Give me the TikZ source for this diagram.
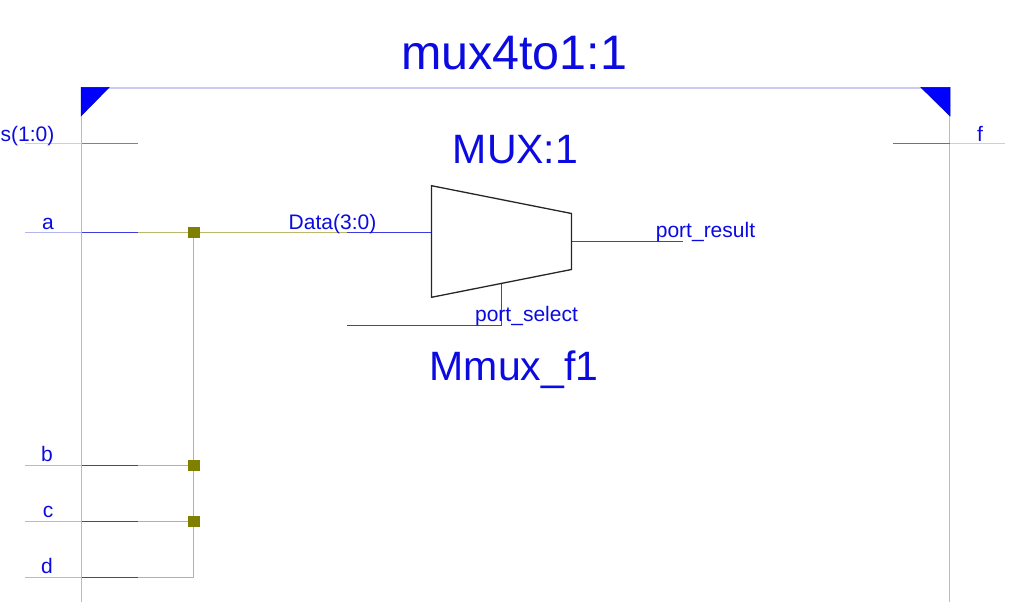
\documentclass[tikz,border=0pt]{standalone}
\usepackage{fontspec}
\setmainfont{Liberation Sans}
\definecolor{lab}{RGB}{10,10,225}
\definecolor{wirein}{RGB}{60,60,225}
\definecolor{pale}{RGB}{180,180,240}
\definecolor{olive}{RGB}{185,185,105}
\definecolor{joint}{RGB}{128,128,0}
\tikzset{
  x=1pt,y=-1pt,
  small/.style={font=\fontsize{21}{21}\selectfont,text=lab,inner sep=0pt,anchor=base},
  big/.style={font=\fontsize{41}{41}\selectfont,text=lab,inner sep=0pt,anchor=base},
  huge/.style={font=\fontsize{48.4}{48.4}\selectfont,text=lab,inner sep=0pt,anchor=base},
  frameside/.style={draw=pale,line width=1.3pt},
  frametop/.style={draw=pale!70!white,line width=2pt},
  stub/.style={draw=pale,line width=1.3pt},
  stubwide/.style={draw=pale!70!white,line width=1.6pt},
  netin/.style={draw=wirein,line width=1.3pt},
  netsoft/.style={draw=wirein!70!white,line width=1.6pt},
  netgrey/.style={draw=black!55,line width=1.6pt},
  net/.style={draw=olive,line width=1.3pt},
  corner/.style={fill=blue,draw=black!30!blue,line width=0.5pt},
  jdot/.style={fill=joint,draw=none,minimum size=11.5pt,inner sep=0pt,rectangle},
  block/.style={draw=black!85,line width=1.3pt,fill=white,line join=miter}
}
\begin{document}
\begin{tikzpicture}
\useasboundingbox (0,0) rectangle (1021,602);
% named points
\coordinate (tl) at (81.5,88);
\coordinate (tr) at (949.5,88);
\coordinate (bl) at (81.5,602);
\coordinate (br) at (949.5,602);
\coordinate (sO) at (25,143.5);
\coordinate (sI) at (81.5,143.5);
\coordinate (sE) at (137.5,143.5);
\coordinate (aO) at (25,232.5);
\coordinate (aI) at (81.5,232.5);
\coordinate (aE) at (138,232.5);
\coordinate (bO) at (25,465.5);
\coordinate (bI) at (81.5,465.5);
\coordinate (bE) at (138,465.5);
\coordinate (cO) at (25,521.5);
\coordinate (cI) at (81.5,521.5);
\coordinate (cE) at (138,521.5);
\coordinate (dO) at (25,577.5);
\coordinate (dI) at (81.5,577.5);
\coordinate (dE) at (138,577.5);
\coordinate (dC) at (193.5,577.5);
\coordinate (dataS) at (347,232.5);
\coordinate (dataE) at (431.5,232.5);
\coordinate (selS) at (347,325.5);
\coordinate (selC) at (501.5,325.5);
\coordinate (selE) at (501.5,283.5);
\coordinate (resS) at (571.5,241.5);
\coordinate (resE) at (683,241.5);
\coordinate (fI) at (892.5,143.5);
\coordinate (fC) at (949.5,143.5);
\coordinate (fO) at (1005,143.5);
% frame
\draw[frametop] (tl) -- (tr);
\draw[frameside] (tl) -- (bl);
\draw[frameside] (tr) -- (br);
\draw[corner] (81,87.5) -- (109,87.5) -- (81,116) -- cycle;
\draw[corner] (950,87.5) -- (921,87.5) -- (950,116) -- cycle;
% stubs
\draw[stubwide] (sO) -- (sI);
\draw[stub] (aO) -- (aI);
\draw[stub] (bO) -- (bI);
\draw[stub] (cO) -- (cI);
\draw[stub] (dO) -- (dI);
\draw[stubwide] (fC) -- (fO);
\draw[netsoft] (sI) -- (sE);
\draw[netin] (aI) -- (aE);
\draw[netin] (bI) -- (bE);
\draw[netin] (cI) -- (cE);
\draw[netin] (dI) -- (dE);
\draw[netgrey] (fI) -- (fC);
% olive nets
\coordinate (jaC) at (193.5,232.5);
\draw[net] (aE) -- (dataS);
\draw[net] (bE) -- (193.5,465.5);
\draw[net] (cE) -- (193.5,521.5);
\draw[net] (dE) -- (dC) -- (jaC);
\node[jdot] (ja) at (194,232.5) {};
\node[jdot] (jb) at (194,465.5) {};
\node[jdot] (jc) at (194,521.5) {};
% block
\draw[netin] (dataS) -- (dataE);
\draw[netin] (selS) -- (selC) -- (selE);
\draw[netin] (resS) -- (resE);
\draw[block] (431.5,185.7) -- (571.5,213.5) -- (571.5,269.5) -- (431.5,297.3) -- cycle;
% texts
\node[huge] (title) at (514,70) {mux4to1:1};
\node[big] (type) at (515.5,163) {MUX:1};
\node[big] (inst) at (514,380) {Mmux\_f1};
\node[small] (ls) at (27.5,141) {s(1:0)};
\node[small] (la) at (48,229) {a};
\node[small] (lb) at (47,461.5) {b};
\node[small] (lc) at (48,517.5) {c};
\node[small] (ld) at (47,573.5) {d};
\node[small] (lf) at (980,141) {f};
\node[small] (ldata) at (332.5,229) {Data(3:0)};
\node[small] (lres) at (705.5,237) {port\_result};
\node[small] (lsel) at (526.5,321) {port\_select};
\end{tikzpicture}
\end{document}
